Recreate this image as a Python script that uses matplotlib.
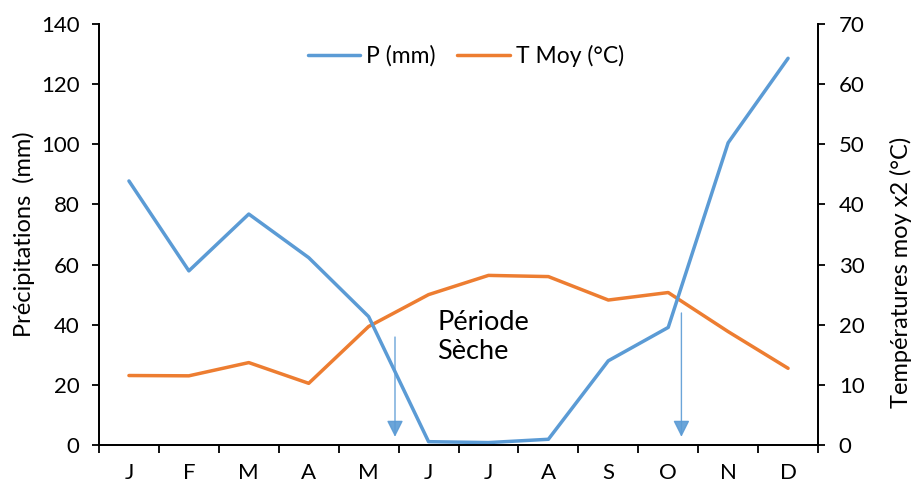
import matplotlib
matplotlib.use("Agg")
import matplotlib.pyplot as plt

# données du diagramme ombrothermique
mois = ['J', 'F', 'M', 'A', 'M', 'J', 'J', 'A', 'S', 'O', 'N', 'D']
precip = [87.8, 57.9, 76.8, 62.3, 42.7, 1.1, 0.8, 1.9, 28.0, 39.1, 100.5, 128.6]
temp_moy = [11.55, 11.5, 13.7, 10.25, 19.7, 25.0, 28.2, 28.0, 24.1, 25.35, 18.85, 12.75]

# limites de la période sèche (flèches)
debut_sec = 4.44
fin_sec = 9.22

plt.rcParams['font.family'] = ['Lato', 'DejaVu Sans']

bleu = '#5B9BD5'
orange = '#ED7D31'

fig = plt.figure(figsize=(9.14, 4.82), dpi=100)
ax = fig.add_axes([0.1083, 0.0768, 0.7867, 0.8734])
ax2 = ax.twinx()

x = list(range(len(mois)))
l1, = ax.plot(x, precip, color=bleu, lw=2.5, label='P (mm)', solid_capstyle='round')
l2, = ax2.plot(x, temp_moy, color=orange, lw=2.5, label='T Moy (°C)', solid_capstyle='round')
ax.set_zorder(ax2.get_zorder() + 1)
ax.patch.set_visible(False)

ax.set_xlim(-0.5, 11.5)
ax.set_ylim(0, 140)
ax2.set_ylim(0, 70)
ax.set_yticks(range(0, 141, 20))
ax2.set_yticks(range(0, 71, 10))

# ticks aux limites des catégories, étiquettes au centre
ax.set_xticks([i - 0.5 for i in range(13)])
ax.set_xticklabels([])
ax.set_xticks(x, minor=True)
ax.set_xticklabels(mois, minor=True)
ax.tick_params(axis='x', which='major', length=6, width=1.3, direction='out')
ax.tick_params(axis='x', which='minor', length=0, pad=13, labelsize=16)
ax.tick_params(axis='y', length=5, width=1.3, labelsize=16, pad=9)
ax2.tick_params(axis='y', length=5, width=1.3, labelsize=16, pad=10)

for a in (ax, ax2):
    a.spines['top'].set_visible(False)
    for s in ('left', 'right', 'bottom'):
        a.spines[s].set_linewidth(1.3)

ax.set_ylabel('Précipitations  (mm)', fontsize=17, labelpad=4)
ax2.set_ylabel('Températures moy x2 (°C)', fontsize=17)
ax2.yaxis.set_label_coords(1.10, 0.411)

# flèches de début et fin de saison sèche
ax.annotate('', xy=(debut_sec, 2.7), xytext=(debut_sec, 35.9),
            arrowprops=dict(arrowstyle='-|>,head_length=1.0,head_width=0.5',
                            color=bleu, lw=1.0, shrinkA=0, shrinkB=0,
                            mutation_scale=10, alpha=0.9))
ax.annotate('', xy=(fin_sec, 2.7), xytext=(fin_sec, 43.9),
            arrowprops=dict(arrowstyle='-|>,head_length=1.0,head_width=0.5',
                            color=bleu, lw=1.0, shrinkA=0, shrinkB=0,
                            mutation_scale=10, alpha=0.9))

ax.text(5.15, 36, 'Période\nSèche', fontsize=19.5, ha='left', va='center',
        linespacing=1.2)

ax.legend([l1, l2], ['P (mm)', 'T Moy (°C)'], loc='center', ncol=2,
          bbox_to_anchor=(0.51, 0.924), frameon=False, fontsize=16.5,
          handlelength=2.3, columnspacing=0.95, handletextpad=0.25)

fig.savefig('out.png', dpi=100)
